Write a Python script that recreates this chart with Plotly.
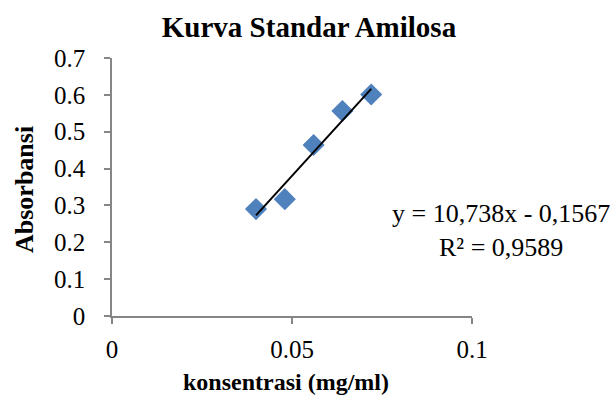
import plotly.graph_objects as go

konsentrasi = [0.04, 0.048, 0.056, 0.064, 0.072]
absorbansi = [0.290, 0.317, 0.464, 0.556, 0.601]
slope = 10.738
intercept = -0.1567
x_ticks = [0, 0.05, 0.1]
x_ticklabels = ["0", "0.05", "0.1"]
y_ticks = [0, 0.1, 0.2, 0.3, 0.4, 0.5, 0.6, 0.7]
y_ticklabels = ["0", "0.1", "0.2", "0.3", "0.4", "0.5", "0.6", "0.7"]

FONT = "Liberation Serif, Times New Roman, serif"

W, H = 615, 397
L, R, T, B = 112, 143, 58, 81
PW, PH = W - L - R, H - T - B


def px(xp):
    return (xp - L) / PW


def py(yp):
    return (T + PH - yp) / PH


trend_x = [min(konsentrasi), max(konsentrasi)]
trend_y = [slope * v + intercept for v in trend_x]

fig = go.Figure()
fig.add_trace(go.Scatter(
    x=konsentrasi, y=absorbansi, mode="markers",
    marker=dict(symbol="diamond", size=17, color="#4F81BD"),
    showlegend=False))
fig.add_trace(go.Scatter(
    x=trend_x, y=trend_y, mode="lines",
    line=dict(color="black", width=2), showlegend=False))

# trendline equation
fig.add_annotation(
    x=px(501), y=py(230), xref="paper", yref="paper",
    showarrow=False, text="y = 10,738x - 0,1567<br>R² = 0,9589",
    font=dict(family=FONT, size=26, color="black"), align="center",
    xanchor="center", yanchor="middle")
# axis titles
fig.add_annotation(
    x=px(286), y=py(382), xref="paper", yref="paper", showarrow=False,
    text="<b>konsentrasi (mg/ml)</b>",
    font=dict(family=FONT, size=24, color="black"),
    xanchor="center", yanchor="middle")
fig.add_annotation(
    x=px(24), y=py(190), xref="paper", yref="paper", showarrow=False,
    text="<b>Absorbansi</b>", textangle=-90,
    font=dict(family=FONT, size=26, color="black"),
    xanchor="center", yanchor="middle")

axis_common = dict(showgrid=False, zeroline=False, showline=True,
                   linecolor="#868686", linewidth=1.5, ticks="outside",
                   ticklen=6, tickcolor="#868686", tickwidth=1.5,
                   tickfont=dict(family=FONT, size=25, color="black"))

fig.update_layout(
    width=W, height=H,
    margin=dict(l=L, r=R, t=T, b=B, autoexpand=False),
    paper_bgcolor="white", plot_bgcolor="white",
    font=dict(family=FONT, color="black"),
    title=dict(text="<b>Kurva Standar Amilosa</b>",
               xref="paper", x=px(309), xanchor="center",
               yref="container", y=1 - 27 / H, yanchor="middle",
               font=dict(family=FONT, size=29, color="black")),
    xaxis=dict(range=[0, 0.1], tickvals=x_ticks, ticktext=x_ticklabels,
               ticklabelstandoff=4, **axis_common),
    yaxis=dict(range=[0, 0.7], tickvals=y_ticks, ticktext=y_ticklabels,
               ticklabelstandoff=14, **axis_common),
)

fig.write_html("out.html", config={"displayModeBar": False},
               post_script="document.body.style.margin='0px';")
